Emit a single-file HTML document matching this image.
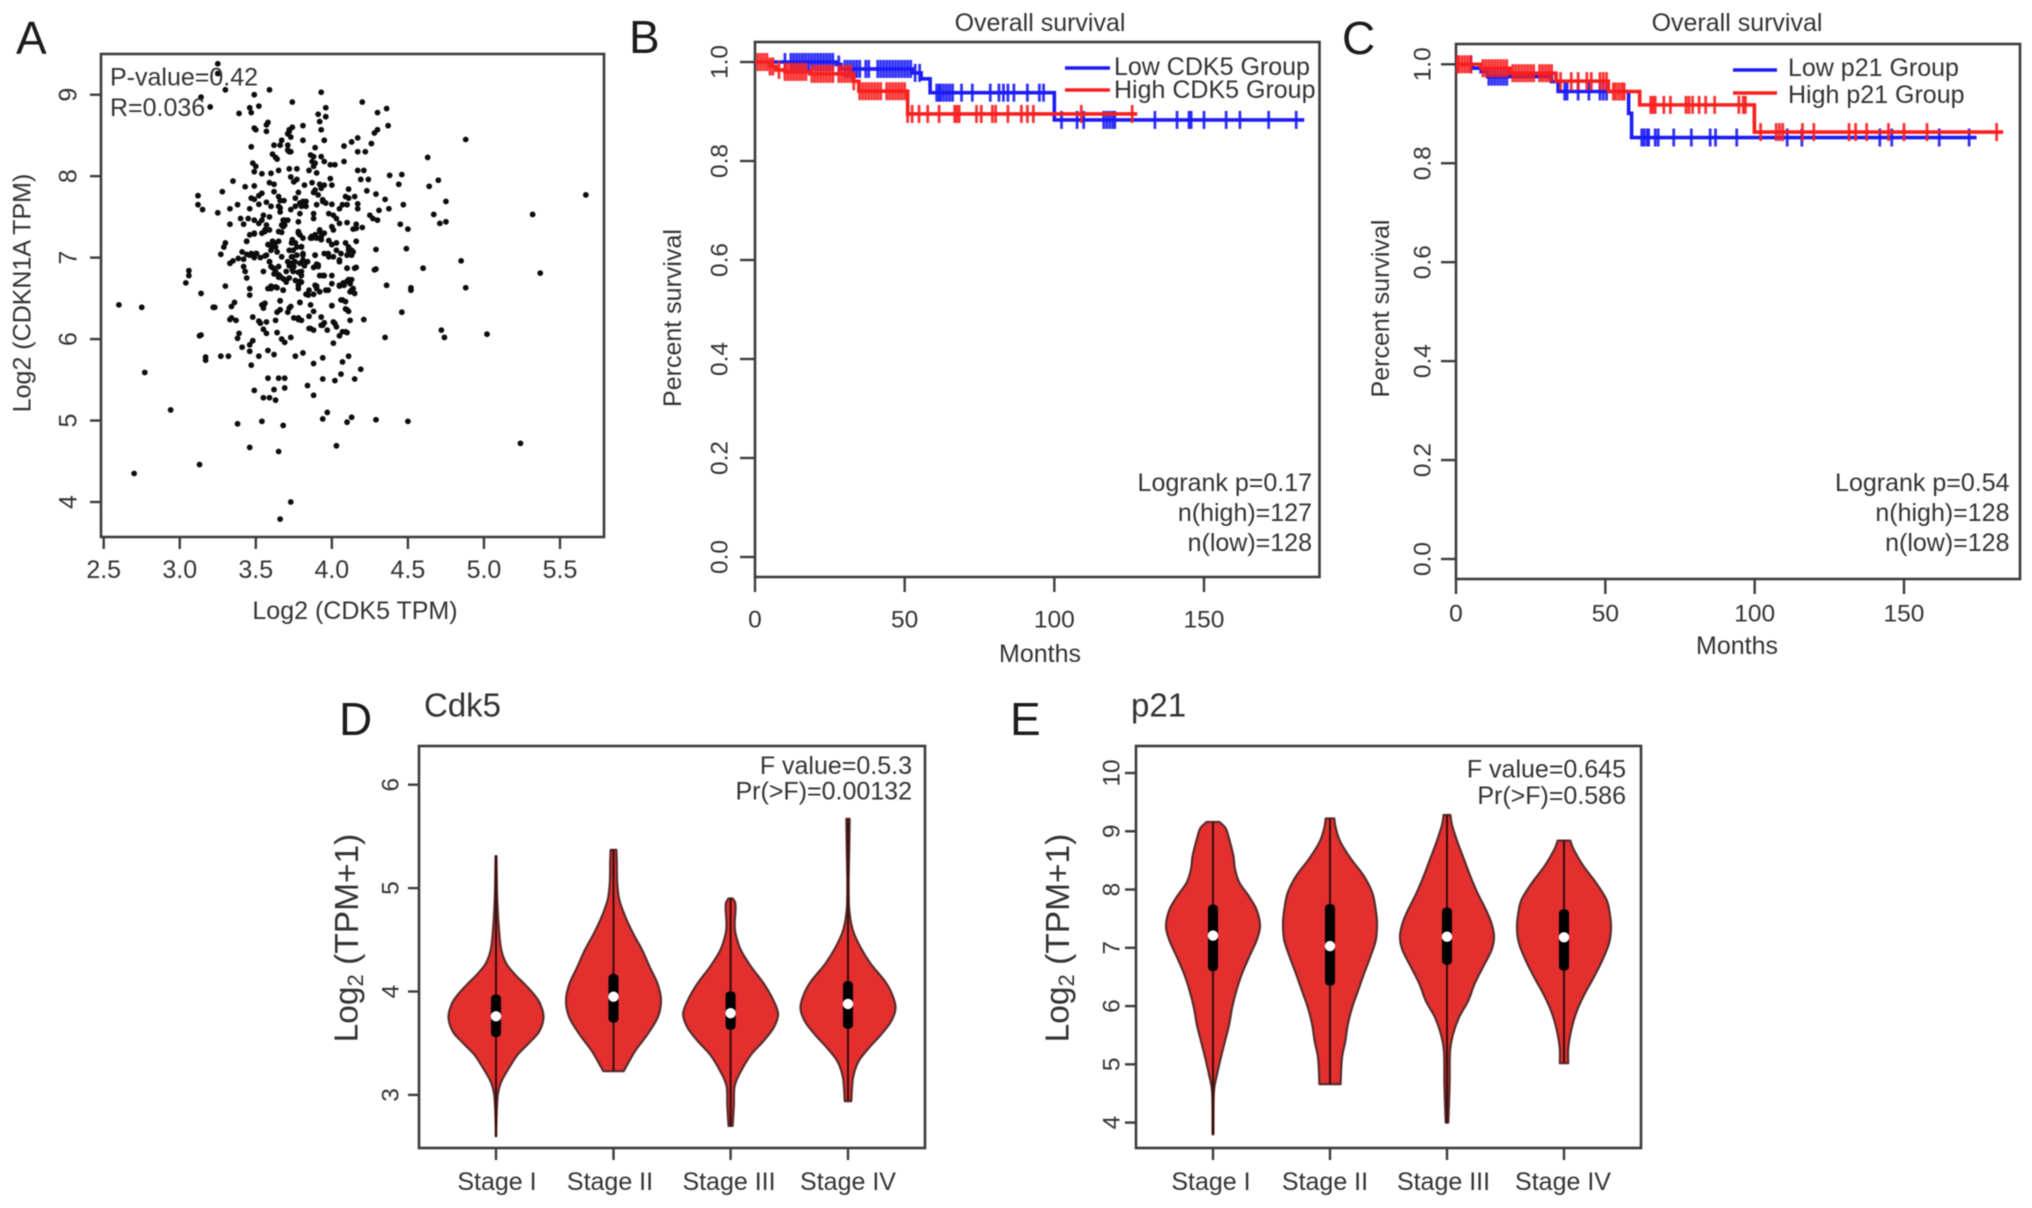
<!DOCTYPE html>
<html lang="en">
<head>
<meta charset="utf-8">
<title>CDK5 and p21 expression panels</title>
<style>
html,body{margin:0;padding:0;background:#fff;width:2032px;height:1208px;overflow:hidden}
svg{display:block;filter:blur(.6px)}
text{font-family:"Liberation Sans",Arial,sans-serif;fill:#333;font-size:25px}
</style>
</head>
<body>
<svg id="figure" xmlns="http://www.w3.org/2000/svg" width="2032" height="1208" viewBox="0 0 2032 1208">
<rect width="2032" height="1208" fill="#fff"/>
</svg>
<script>
/* ---------- Panel A data ---------- */
const scatterTicksX = [2.5,3.0,3.5,4.0,4.5,5.0,5.5];
const scatterTicksY = [4,5,6,7,8,9];
const scatterPairs = [
[2.60,6.42],[2.75,6.39],[2.77,5.59],[2.70,4.35],[2.94,5.13],[3.13,4.46],[3.04,6.69],[3.06,6.84],[3.06,6.78],[3.14,6.56],[3.13,6.04],[3.17,5.78],[3.17,5.74],[3.23,6.39],[3.27,5.79],[3.32,5.79],[3.30,6.65],
[3.25,9.38],[3.25,9.26],[3.30,9.06],[3.14,8.97],[3.49,9.0],[3.59,9.06],[3.93,9.03],[3.74,8.91],[4.20,8.91],[3.52,8.86],[3.46,8.84],[3.47,8.78],[3.39,8.77],[3.20,8.85],[4.30,8.78],[4.36,8.83],[4.37,8.62],[3.96,8.84],[3.91,8.76],[3.96,8.73],[3.92,8.67],[3.93,8.57],
[3.58,8.66],[3.57,8.63],[3.57,8.55],[3.49,8.59],[3.50,8.57],[3.81,8.62],[3.74,8.60],[3.72,8.57],[3.71,8.52],[3.73,8.48],[3.72,8.55],[4.30,8.57],[4.28,8.53],[3.81,8.44],[3.95,8.44],[4.17,8.47],[4.13,8.42],[4.08,8.37],[4.26,8.40],[3.67,8.44],[3.66,8.38],[3.62,8.38],[3.47,8.36],[3.71,8.38],[3.71,8.32],[3.72,8.30],[3.73,8.30],[3.89,8.35],[4.17,8.30],[4.22,8.30],[3.61,8.27],[3.63,8.23],[3.64,8.21],[4.63,8.23],[4.88,8.45],
[3.86,8.26],[3.88,8.24],[3.87,8.18],[3.85,8.07],[3.89,8.16],[3.90,8.04],[3.88,8.12],[3.93,8.24],[3.95,8.18],[3.99,8.14],[4.02,8.14],[4.08,8.18],[3.48,8.16],[3.50,8.12],[3.49,8.055],[3.54,8.03],[3.60,8.035],[3.65,8.07],[3.72,8.09],[3.77,8.09],[4.17,8.07],[4.21,8.07],[4.19,7.96],[4.24,7.96],[4.38,8.01],[4.46,8.02],[3.73,7.99],[3.75,7.93],[3.77,7.96],[3.35,7.94],[3.99,7.97],[4.00,7.89],[4.44,7.90],[4.64,7.875],[4.70,7.95],[4.75,7.69],[4.67,7.53],[4.71,7.42],[4.75,7.44],
[3.59,7.92],[3.62,7.90],[3.49,7.88],[3.43,7.87],[3.28,7.81],[3.87,7.92],[3.92,7.90],[3.95,7.89],[3.82,7.89],[3.89,7.83],[3.93,7.85],[3.91,7.77],[3.88,7.80],[3.62,7.81],[3.65,7.75],[3.54,7.79],[3.52,7.76],[3.47,7.73],[3.49,7.715],[3.78,7.80],[3.76,7.73],[3.81,7.69],[3.79,7.67],[3.83,7.69],[3.76,7.63],[3.73,7.59],[3.80,7.63],[4.23,7.82],[4.29,7.78],[4.35,7.715],[4.375,7.6],[4.31,7.58],[4.47,7.65],[4.11,7.84],[4.15,7.75],[4.09,7.75],[4.11,7.73],[4.07,7.65],[4.05,7.6],[4.10,7.65],[4.17,7.66],[4.17,7.6],[3.94,7.71],[3.96,7.67],[3.90,7.65],[4.0,7.655],[3.57,7.68],[3.52,7.655],[3.66,7.70],[3.685,7.70],[3.60,7.63],[3.65,7.63],[3.66,7.56],[3.46,7.60],[3.38,7.65],[3.33,7.60],[3.25,7.55],[3.15,7.59],[3.12,7.76],[3.12,7.65],
[3.40,7.48],[3.45,7.48],[3.42,7.41],[3.33,7.41],[3.49,7.46],[3.52,7.42],[3.55,7.52],[3.59,7.50],[3.54,7.46],[3.57,7.40],[3.56,7.32],[3.59,7.34],[3.88,7.54],[3.88,7.48],[3.79,7.54],[3.78,7.44],[3.68,7.46],[3.71,7.46],[3.67,7.40],[3.69,7.40],[3.65,7.32],[3.67,7.31],[3.98,7.54],[4.01,7.52],[4.03,7.48],[4.05,7.42],[4.0,7.38],[4.01,7.34],[4.10,7.43],[4.16,7.41],[4.14,7.35],[4.16,7.36],[4.20,7.37],[4.25,7.52],[4.27,7.48],[4.30,7.46],[4.45,7.41],[4.50,7.35],
[3.78,7.32],[3.79,7.28],[3.92,7.34],[3.89,7.28],[3.95,7.30],[3.87,7.24],[3.90,7.24],[3.93,7.26],[3.86,7.24],[3.81,7.24],[3.49,7.29],[3.46,7.28],[3.44,7.20],[3.54,7.30],[3.61,7.20],[3.58,7.16],[3.65,7.20],[3.63,7.13],[3.60,7.09],[3.64,7.07],[3.30,7.18],[3.29,7.13],[3.27,7.04],[4.16,7.20],[4.09,7.18],[4.11,7.13],[4.13,7.09],[4.14,7.07],[4.10,7.03],[4.06,7.05],[3.98,7.21],[4.0,7.16],[4.03,7.09],[3.95,7.05],[4.01,7.01],[3.98,7.01],[4.29,7.10],[4.49,7.11],
[3.74,7.22],[3.76,7.18],[3.72,7.09],[3.77,7.13],[3.80,7.13],[3.81,7.05],[3.74,7.01],[3.71,6.95],[3.77,7.03],[3.81,6.97],[3.79,6.93],[3.75,6.89],[3.89,7.03],[3.41,7.07],[3.385,6.99],[3.35,6.96],[3.33,6.93],[3.44,7.04],[3.47,7.05],[3.50,7.05],[3.53,7.0],[3.56,7.02],[3.59,6.95],[3.60,6.89],[3.63,6.83],[3.65,6.89],[3.66,6.77],[3.55,6.83],[3.42,6.89],[3.43,6.83],[3.44,6.75],[3.91,6.89],[3.90,6.92],[3.88,6.88],[4.10,6.87],[4.15,6.87],[4.05,6.95],[4.28,6.85],[4.60,6.87],[4.85,6.96],[3.95,6.78],[4.0,6.78],[4.13,6.73],[4.10,6.71],[4.05,6.66],[4.52,6.63],[4.36,6.66],[4.29,6.86],[4.46,6.33],[4.88,6.63],[5.24,4.72],[5.37,6.81],[5.32,7.53],[5.67,7.77],
[3.72,6.90],[3.74,6.85],[3.78,6.82],[3.80,6.78],[3.72,6.75],[3.76,6.72],[3.80,6.70],[3.78,6.66],[3.70,6.70],[3.68,6.74],[3.65,6.76],[3.62,6.80],[3.60,6.65],[3.64,6.63],[3.68,6.60],[3.58,6.62],[3.82,6.90],[3.84,6.95],[3.92,6.78],[3.85,6.60],[3.88,6.55],[3.90,6.65],[3.92,6.58],[3.96,6.60],[4.08,6.66],[4.12,6.68],[4.14,6.62],[4.12,6.58],[4.15,6.56],[3.83,6.55],[4.0,6.68],[3.46,6.62],[3.46,6.54],[4.52,6.60],
[3.22,6.39],[3.34,6.40],[3.36,6.45],[3.54,6.42],[3.55,6.41],[3.56,6.44],[3.55,6.38],[3.66,6.47],[3.79,6.45],[3.86,6.42],[4.0,6.41],[3.73,6.40],[3.71,6.33],[3.66,6.36],[3.64,6.33],[4.07,6.48],[4.09,6.46],[4.09,6.37],[4.11,6.34],[3.88,6.34],[3.85,6.28],[4.21,6.24],[4.12,6.23],[3.34,6.26],[3.33,6.24],[3.37,6.23],[3.48,6.27],[3.52,6.22],[3.53,6.195],[3.57,6.21],[3.63,6.23],[3.75,6.26],[3.78,6.24],[3.80,6.23],[3.93,6.27],[3.93,6.17],[3.95,6.20],[4.01,6.21],[4.03,6.15],[3.85,6.13],[3.88,6.11],[3.97,6.11],[3.55,6.12],[3.57,6.07],[3.64,6.08],[4.07,6.09],[4.10,6.08],[4.05,6.04],[3.39,6.07],[3.38,6.01],[3.73,6.02],[3.67,6.0],[3.69,5.96],[3.14,6.05],[4.35,6.02],[4.72,6.11],[4.74,6.02],[5.02,6.06],[4.01,5.95],
[3.48,5.98],[3.46,5.93],[3.41,5.90],[3.46,5.85],[3.58,5.86],[3.62,5.81],[3.52,5.79],[3.76,5.79],[3.81,5.83],[3.94,5.77],[3.88,5.70],[4.11,5.79],[4.07,5.72],[3.47,5.68],[4.19,5.63],[4.06,5.57],[4.02,5.49],[3.94,5.51],[4.15,5.51],[3.58,5.52],[3.65,5.52],[3.69,5.52],[3.84,5.43],[3.69,5.40],[3.62,5.38],[3.49,5.37],[3.88,5.31],[3.55,5.28],[3.59,5.28],[3.63,5.25],[3.97,5.10],[3.94,5.02],[4.13,5.04],[4.10,4.98],[4.29,5.01],[4.50,4.99],[3.38,4.96],[3.54,4.99],[3.68,4.94],[3.46,4.67],[3.65,4.62],[4.03,4.69],[3.73,4.0],[3.66,3.79],
[3.735,7.18],[3.746,7.09],[3.735,7.01],[3.735,6.93],[3.80,7.135],[3.81,7.03],[3.81,6.93],[3.80,6.83],[3.79,6.71],[3.78,6.62],[3.757,6.95],[3.70,6.83],[3.746,6.83],[3.69,6.73],[3.65,6.79],[3.615,6.87],[3.59,6.95],[3.67,7.01],[3.626,7.18],[3.60,7.14],[3.57,7.03],[3.505,7.05],[3.46,7.03],[3.42,6.98],[3.49,7.0],
[3.78,7.30],[3.867,7.26],[3.92,7.32],[3.93,7.22],[3.976,7.05],[4.03,7.18],[4.05,6.97],[4.11,7.09],[4.13,7.03],[4.10,6.87],[4.16,6.88],[3.91,6.91],[3.89,7.03],[4.11,6.73],[4.075,6.69],[4.05,6.65],[4.13,6.6],[3.90,6.62],[3.89,6.66],[3.976,6.60],[3.94,6.78],[4.06,6.48],[4.10,6.36],[4.0,6.41],[3.55,6.41],[3.66,6.36],[3.72,6.38],[3.78,6.26],[3.86,6.13],[3.94,6.17],[4.02,6.19],[4.09,6.09],[3.60,6.62],[3.63,6.64],[3.68,6.6],[3.845,6.54],[3.79,6.45],[3.66,6.47],
[3.79,7.67],[3.83,7.63],[3.94,7.69],[3.66,7.61],[3.69,7.46],[3.68,7.38],[3.56,7.34],[3.49,7.30],[3.44,7.2]
];

/* ---------- Panels B, C data ---------- */
const survivalTicksX = [0,50,100,150];
const survivalTicksY = [0.0,0.2,0.4,0.6,0.8,1.0];

const bLowStepMonths = [27.2,28.7,52.5,55.5,58.5,100];
const bLowStepSurvival = [0.995,0.986,0.978,0.966,0.938,0.883];
const bLowEndMonth = 183.5;
const bLowCensored = [10,12,13,14,15,16,17,18,19,20,21,22,23,24,25,26,28,30,31,32,33,34,35,37,38,41,42,43,44,45,46,47,48,49,50,51,52,53.5,55,60.7,61.5,62,63,64,65,66,69,72.6,78.6,81.5,83,84.5,86.5,91,95,96.4,102.4,107.6,109.8,116.5,117.5,118.5,119.5,120.2,133.6,141,145,145.7,150,157.4,162,171.6,180.8];

const bHighStepMonths = [5,7,10,18.3,33,34.7,51];
const bHighStepSurvival = [0.991,0.984,0.98,0.976,0.961,0.941,0.895];
const bHighEndMonth = 127.7;
const bHighCensored = [1,2,3,4,5,6,8,10,11,12,13,14,15,16,17,19,20,21,22,23,24,25,26,28,29,30,31,32,33,35,36,37,38,39,40,41,42,44,45,46,47,48,49,50,51,52.5,54.8,57.7,61.5,66.7,67.4,68.2,74,75.6,79.3,80.4,84.5,89,91,93,109,126];

const cLowStepMonths = [5.5,8.4,10.6,32,34.2,57.8,58.8];
const cLowStepSurvival = [0.992,0.985,0.975,0.965,0.945,0.901,0.852];
const cLowEndMonth = 174.3;
const cLowCensored = [5,11,12,13,14,15,16,17,36.4,37.2,40.9,44.5,48.2,49.3,50.4,62.2,63,64,64.5,66.7,67.7,72.9,78.8,85.1,86.9,94,110.9,115.8,141.9,145.9,161.8,171.8];

const cHighStepMonths = [8.4,18,33.5,51,61.5,99.9];
const cHighStepSurvival = [0.992,0.982,0.966,0.945,0.918,0.863];
const cHighEndMonth = 183.2;
const cHighCensored = [0.5,1,2,3,4,5,9,10,11,12,13,14,15,16,17,19,20,21,22,23,24,25,26,28,29,30,31,32,35,38.6,40.9,43.8,45.3,48.2,49.3,50.4,52.7,53.5,54.5,55.5,56.3,65.2,66,66.7,69.6,71.8,77,78,79.2,81.4,83.6,86.6,94.7,96.2,96.9,102,107.2,108.3,109.4,116,119.8,131.6,133.8,137.5,144.8,150,157.7,181];

/* ---------- Panels D, E data ---------- */
const stageLabels = ["Stage I","Stage II","Stage III","Stage IV"];
const cdk5TicksY = [3,4,5,6];
const p21TicksY = [4,5,6,7,8,9,10];

const cdk5StageILevels = [5.31,4.89,4.56,4.40,4.27,4.17,4.07,3.97,3.88,3.75,3.61,3.50,3.39,3.25,3.12,2.99,2.76,2.60];
const cdk5StageIDensity = [1,3,8,13,25,45,70,93,108,116,105,80,53,30,12,4,1,0.5];
const cdk5StageIIDensity = [7,8,9,14,28,48,70,88,108,116,108,82,52,25];
const cdk5StageIILevels = [5.37,5.25,5.05,4.89,4.73,4.56,4.40,4.24,4.07,3.91,3.75,3.58,3.42,3.23];
const cdk5StageIIILevels = [4.90,4.86,4.79,4.66,4.56,4.40,4.24,4.07,3.91,3.78,3.65,3.52,3.39,3.25,3.09,2.90,2.70];
const cdk5StageIIIDensity = [5,11,12,10,12,25,50,82,105,116,105,80,50,28,10,8,5];
const cdk5StageIVLevels = [5.67,5.38,5.05,4.79,4.59,4.43,4.27,4.10,3.97,3.84,3.71,3.58,3.45,3.32,3.16,2.94];
const cdk5StageIVDensity = [4,3,1.5,3,12,30,55,90,108,116,105,80,50,25,12,8];
const cdk5BoxLow = [3.56,3.70,3.63,3.64];
const cdk5BoxMedian = [3.76,3.95,3.79,3.88];
const cdk5BoxHigh = [3.97,4.17,4.00,4.10];

const p21StageILevels = [9.16,9.05,8.87,8.58,8.35,8.12,7.88,7.65,7.37,7.13,6.84,6.55,6.26,5.97,5.68,5.39,5.10,4.81,4.52,3.80];
const p21StageIDensity = [15,30,38,48,52,62,85,103,111,103,85,68,55,45,38,28,18,9,2,1];
const p21StageIILevels = [9.22,9.04,8.81,8.52,8.23,7.94,7.65,7.42,7.13,6.84,6.55,6.26,5.97,5.68,5.39,5.10,4.66];
const p21StageIIDensity = [10,14,25,50,80,100,108,111,108,95,80,66,52,42,36,28,25];
const p21StageIIILevels = [9.28,9.10,8.81,8.52,8.23,7.94,7.65,7.42,7.19,6.96,6.67,6.38,6.09,5.80,5.51,5.22,4.64,4.00];
const p21StageIIIDensity = [8,12,25,40,55,72,92,105,111,105,85,65,50,28,14,7,6,3];
const p21StageIVLevels = [8.84,8.70,8.41,8.12,7.83,7.59,7.33,7.07,6.78,6.49,6.20,5.91,5.62,5.28,5.02];
const p21StageIVDensity = [15,22,45,75,100,108,111,106,90,70,48,30,18,10,10];
const p21BoxLow = [6.60,6.35,6.71,6.61];
const p21BoxMedian = [7.21,7.03,7.19,7.18];
const p21BoxHigh = [7.74,7.75,7.69,7.66];

/* ---------- helpers ---------- */
const SVGNS = "http://www.w3.org/2000/svg";
const root = document.getElementById("figure");
function mk(tag, parent, attrs){
  const n = document.createElementNS(SVGNS, tag);
  for (const k in attrs) n.setAttribute(k, attrs[k]);
  parent.appendChild(n);
  return n;
}
function label(parent, str, x, y, anchor, size, rotate){
  const attrs = {x:x, y:y, "text-anchor":anchor, "dominant-baseline":"central"};
  if (size) attrs.style = "font-size:" + size + "px";
  if (rotate) attrs.transform = "rotate(-90 " + x + " " + y + ")";
  const t = mk("text", parent, attrs);
  t.textContent = str;
  return t;
}
function linear(d0, d1, r0, r1){ return v => r0 + (v - d0) * (r1 - r0) / (d1 - d0); }
function panelLetter(str, x, y){
  const t = mk("text", root, {x:x, y:y, style:"font-size:46px;fill:#1c1c1c"});
  t.textContent = str;
  
  
}
function frame(parent, b){
  const r = mk("rect", parent, {x:b.l, y:b.t, width:b.r-b.l, height:b.b-b.t, fill:"none", stroke:"#3c3c3c", "stroke-width":2.6});
  
  
}
function group(name){
  const g = mk("g", root, {});
  
  
  return g;
}
function tickMark(parent, x1, y1, x2, y2){
  const t = mk("line", parent, {x1:x1, y1:y1, x2:x2, y2:y2, stroke:"#3c3c3c", "stroke-width":2.4});
  
  
}
function named(n, name){
  
  
  return n;
}

/* ---------- Panel A ---------- */
(function(){
  const g = group("panel-a-scatter");
  const box = {l:101, r:604, t:54, b:537};
  const sx = linear(2.5, 5.5, 103.7, 560);
  const sy = linear(4, 9, 502, 94.7);
  scatterPairs.forEach(function(p){
    const c = mk("circle", g, {cx:sx(p[0]), cy:sy(p[1]), r:2.9, fill:"#0d0d0d"});
    
    
  });
  frame(g, box);
  scatterTicksX.forEach(function(v){
    tickMark(g, sx(v), box.b, sx(v), box.b + 12);
    named(label(g, v.toFixed(1), sx(v), 570, "middle"), "x-tick-label");
  });
  scatterTicksY.forEach(function(v){
    tickMark(g, box.l, sy(v), box.l - 11, sy(v));
    named(label(g, String(v), 68.5, sy(v), "middle", null, true), "y-tick-label");
  });
  named(label(g, "Log2 (CDK5 TPM)", 355, 611, "middle", 25), "x-axis-title");
  named(label(g, "Log2 (CDKN1A TPM)", 22.5, 293, "middle", 25, true), "y-axis-title");
  named(label(g, "P-value=0.42", 110, 77.5, "start"), "p-value-annotation");
  named(label(g, "R=0.036", 110, 108, "start"), "r-annotation");
})();

/* ---------- Panels B, C ---------- */
function stepPath(sx, sy, months, surv, end){
  let d = "M" + sx(0) + " " + sy(1);
  months.forEach(function(m, i){
    d += "H" + sx(m) + "V" + sy(surv[i]);
  });
  return d + "H" + sx(end);
}
function survivalAt(months, surv, t){
  let s = 1;
  months.forEach(function(m, i){ if (t >= m) s = surv[i]; });
  return s;
}
function drawCurve(g, name, color, sx, sy, months, surv, end, cens){
  const p = mk("path", g, {d:stepPath(sx, sy, months, surv, end), fill:"none", stroke:color, "stroke-width":3.6});
  
  
  cens.forEach(function(t){
    const y = sy(survivalAt(months, surv, t));
    const m = mk("line", g, {x1:sx(t), x2:sx(t), y1:y-9, y2:y+9, stroke:color, "stroke-width":2.8, "stroke-opacity":0.9});
    
    
  });
}
function survivalPanel(o){
  const g = group(o.name);
  const b = o.box;
  const sx = linear(0, 150, b.l, o.x150);
  const sy = linear(0, 1, o.y0, o.y1);
  frame(g, b);
  survivalTicksX.forEach(function(v){
    tickMark(g, sx(v), b.b, sx(v), b.b + 15);
    named(label(g, String(v), sx(v), o.xLabelY, "middle", 24.5), "x-tick-label");
  });
  survivalTicksY.forEach(function(v){
    tickMark(g, b.l, sy(v), b.l - 15, sy(v));
    named(label(g, v.toFixed(1), o.yLabelX, sy(v), "middle", 24.5, true), "y-tick-label");
  });
  named(label(g, "Overall survival", o.midX, 23, "middle"), "chart-title");
  named(label(g, "Months", o.midX, o.monthsY, "middle"), "x-axis-title");
  named(label(g, "Percent survival", o.ylabX, o.ylabY, "middle", null, true), "y-axis-title");
  drawCurve(g, "low-group", "#1c1cf5", sx, sy, o.low[0], o.low[1], o.low[2], o.low[3]);
  drawCurve(g, "high-group", "#f81f1f", sx, sy, o.high[0], o.high[1], o.high[2], o.high[3]);
  const l1 = mk("line", g, {x1:o.legX1, x2:o.legX2, y1:o.legY[0], y2:o.legY[0], stroke:"#1c1cf5", "stroke-width":3.6});
  named(l1, "legend-line-low");
  const l2 = mk("line", g, {x1:o.legX1, x2:o.legX2, y1:o.legY[1], y2:o.legY[1], stroke:"#f81f1f", "stroke-width":3.6});
  named(l2, "legend-line-high");
  named(label(g, o.legText[0], o.legTextX, o.legTextY[0], "start"), "legend-label-low");
  named(label(g, o.legText[1], o.legTextX, o.legTextY[1], "start"), "legend-label-high");
  o.stats.forEach(function(s, i){
    named(label(g, s, o.statX, [483,513,543][i], "end"), "stat-annotation");
  });
}
survivalPanel({
  name:"panel-b-survival-cdk5", box:{l:755,r:1319.5,t:42,b:577}, x150:1204, y0:557, y1:62,
  xLabelY:620, yLabelX:720, midX:1040, monthsY:654, ylabX:673, ylabY:318,
  low:[bLowStepMonths,bLowStepSurvival,bLowEndMonth,bLowCensored],
  high:[bHighStepMonths,bHighStepSurvival,bHighEndMonth,bHighCensored],
  legX1:1065, legX2:1110, legY:[68,90], legText:["Low CDK5 Group","High CDK5 Group"], legTextX:1114, legTextY:[67,90],
  stats:["Logrank p=0.17","n(high)=127","n(low)=128"], statX:1312
});
survivalPanel({
  name:"panel-c-survival-p21", box:{l:1456,r:2020,t:44,b:579}, x150:1904, y0:559, y1:64.3,
  xLabelY:614, yLabelX:1423, midX:1737, monthsY:646, ylabX:1381, ylabY:308.5,
  low:[cLowStepMonths,cLowStepSurvival,cLowEndMonth,cLowCensored],
  high:[cHighStepMonths,cHighStepSurvival,cHighEndMonth,cHighCensored],
  legX1:1733, legX2:1777, legY:[70,93], legText:["Low p21 Group","High p21 Group"], legTextX:1788, legTextY:[68,95],
  stats:["Logrank p=0.54","n(high)=128","n(low)=128"], statX:2009.5
});

/* ---------- Panels D, E ---------- */
function smoothThrough(pts){
  /* Catmull-Rom segments, excluding the initial moveto */
  let d = "";
  for (let i = 0; i < pts.length - 1; i++){
    const p0 = pts[Math.max(i-1,0)], p1 = pts[i], p2 = pts[i+1], p3 = pts[Math.min(i+2,pts.length-1)];
    const c1x = p1[0] + (p2[0]-p0[0])/6, c1y = p1[1] + (p2[1]-p0[1])/6;
    const c2x = p2[0] - (p3[0]-p1[0])/6, c2y = p2[1] - (p3[1]-p1[1])/6;
    d += "C" + c1x + " " + c1y + " " + c2x + " " + c2y + " " + p2[0] + " " + p2[1];
  }
  return d;
}
function violin(g, name, cx, sy, pxPerDensity, levels, density, low, med, high){
  const right = levels.map((v,i) => [cx + density[i]*pxPerDensity, sy(v)]);
  const left = levels.map((v,i) => [cx - density[i]*pxPerDensity, sy(v)]).reverse();
  const d = "M" + right[0][0] + " " + right[0][1] + smoothThrough(right) + "L" + left[0][0] + " " + left[0][1] + smoothThrough(left) + "Z";
  const body = mk("path", g, {d:d, fill:"#e3302f", stroke:"#5b2b2b", "stroke-width":2.2, "stroke-linejoin":"round"});
  
  
  const w = mk("line", g, {x1:cx, x2:cx, y1:sy(levels[0]), y2:sy(levels[levels.length-1]), stroke:"#3a0b0b", "stroke-width":2});
  
  
  const b = mk("rect", g, {x:cx-5, width:10, y:sy(high), height:sy(low)-sy(high), rx:4, fill:"#000"});
  
  
  const m = mk("circle", g, {cx:cx, cy:sy(med), r:5.2, fill:"#fff"});
  
  
}
function subTitle(g, x, y){
  const t = mk("text", g, {x:x, y:y, "text-anchor":"middle", "dominant-baseline":"central", style:"font-size:33.5px", transform:"rotate(-90 " + x + " " + y + ")"});
  t.appendChild(document.createTextNode("Log"));
  const s = mk("tspan", t, {dy:8, style:"font-size:22px"});
  s.textContent = "2";
  const r = mk("tspan", t, {dy:-8});
  r.textContent = " (TPM+1)";
  
  
}
function violinPanel(o){
  const g = group(o.name);
  const b = o.box;
  const sy = linear(o.domain[0], o.domain[1], o.range[0], o.range[1]);
  const pxPerDensity = o.maxHalf / o.maxDensity;
  frame(g, b);
  o.series.forEach(function(s, i){
    violin(g, "stage-" + (i+1), o.centers[i], sy, pxPerDensity, s[0], s[1], o.boxLow[i], o.boxMed[i], o.boxHigh[i]);
    tickMark(g, o.centers[i], b.b, o.centers[i], b.b + 12);
    named(label(g, stageLabels[i], o.labelX[i], 1182, "middle", 25), "x-tick-label");
  });
  o.ticks.forEach(function(v){
    tickMark(g, b.l, sy(v), b.l - 11, sy(v));
    named(label(g, String(v), o.tickLabelX, sy(v), "middle", 24.5, true), "y-tick-label");
  });
  subTitle(g, o.titleX, 938);
  named(label(g, o.title, o.titleStart, 705, "start", 33), "chart-title");
  named(label(g, o.stats[0], o.statX, o.statY[0], "end", 25), "f-value-annotation");
  named(label(g, o.stats[1], o.statX, o.statY[1], "end", 25), "pr-annotation");
}
violinPanel({
  name:"panel-d-violin-cdk5", box:{l:419,r:925,t:746,b:1148},
  domain:[3,6], range:[1094.9,784.7], maxHalf:47.5, maxDensity:116,
  centers:[496,613.5,730.6,848], labelX:[497,610,729,848], ticks:cdk5TicksY, tickLabelX:391,
  series:[[cdk5StageILevels,cdk5StageIDensity],[cdk5StageIILevels,cdk5StageIIDensity],[cdk5StageIIILevels,cdk5StageIIIDensity],[cdk5StageIVLevels,cdk5StageIVDensity]],
  boxLow:cdk5BoxLow, boxMed:cdk5BoxMedian, boxHigh:cdk5BoxHigh,
  titleX:347, title:"Cdk5", titleStart:424, stats:["F value=0.5.3","Pr(>F)=0.00132"], statX:912, statY:[766,791.5]
});
violinPanel({
  name:"panel-e-violin-p21", box:{l:1136,r:1641,t:746,b:1148},
  domain:[4,10], range:[1122.6,773], maxHalf:47, maxDensity:111,
  centers:[1213,1330,1447,1564], labelX:[1211,1325,1443.5,1563], ticks:p21TicksY, tickLabelX:1112,
  series:[[p21StageILevels,p21StageIDensity],[p21StageIILevels,p21StageIIDensity],[p21StageIIILevels,p21StageIIIDensity],[p21StageIVLevels,p21StageIVDensity]],
  boxLow:p21BoxLow, boxMed:p21BoxMedian, boxHigh:p21BoxHigh,
  titleX:1058, title:"p21", titleStart:1131, stats:["F value=0.645","Pr(>F)=0.586"], statX:1626, statY:[769.5,796]
});

panelLetter("A", 16, 54);
panelLetter("B", 629, 53);
panelLetter("C", 1342, 54);
panelLetter("D", 339, 735);
panelLetter("E", 1010, 735);
</script>
</body>
</html>
